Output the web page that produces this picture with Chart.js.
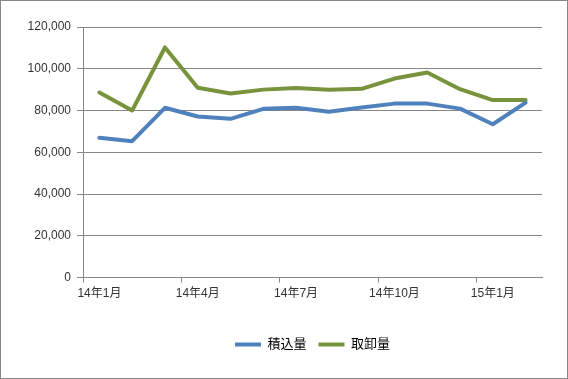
<!DOCTYPE html>
<html>
<head>
<meta charset="utf-8">
<script src="https://cdn.jsdelivr.net/npm/chart.js@4.4.1/dist/chart.umd.min.js"></script>
<style>
  html, body { margin: 0; padding: 0; background: #fff; }
  #wrap { position: relative; width: 568px; height: 379px; border: 1px solid #868686; box-sizing: border-box; background: #fff; }
</style>
</head>
<body>
<div id="wrap"><canvas id="c"></canvas></div>
<script>
const categories = ['14年1月','14年2月','14年3月','14年4月','14年5月','14年6月','14年7月','14年8月','14年9月','14年10月','14年11月','14年12月','15年1月','15年2月'];
const loadingValues = [66900, 65300, 81300, 77100, 76000, 80800, 81300, 79400, 81400, 83300, 83300, 80900, 73400, 83800];
const unloadingValues = [88600, 80000, 110200, 90900, 88100, 90000, 90800, 89900, 90400, 95300, 98200, 90200, 85000, 85000];
const seriesNames = ['積込量', '取卸量'];
const yTicks = [0, 20000, 40000, 60000, 80000, 100000, 120000];

const FONT = '"Liberation Sans", "Noto Sans CJK JP", sans-serif';
const GRID = '#868686';
const TEXT = '#333333';

new Chart(document.getElementById('c'), {
  type: 'line',
  data: {
    labels: categories,
    datasets: [
      { label: seriesNames[0], data: loadingValues, borderColor: '#4F81BD', backgroundColor: '#4F81BD',
        borderWidth: 4, pointRadius: 0, pointHoverRadius: 0, tension: 0, borderJoinStyle: 'round', borderCapStyle: 'round', pointStyle: 'line' },
      { label: seriesNames[1], data: unloadingValues, borderColor: '#77933C', backgroundColor: '#77933C',
        borderWidth: 4, pointRadius: 0, pointHoverRadius: 0, tension: 0, borderJoinStyle: 'round', borderCapStyle: 'round', pointStyle: 'line' }
    ]
  },
  options: {
    responsive: true,
    maintainAspectRatio: false,
    animation: false,
    layout: { padding: { top: 26, right: 25, bottom: 17, left: 0 } },
    plugins: {
      tooltip: { enabled: false },
      legend: {
        position: 'bottom',
        fullSize: false,
        labels: {
          usePointStyle: true,
          pointStyleWidth: 26,
          boxHeight: 13,
          padding: 12,
          color: '#000',
          font: { family: FONT, size: 13 }
        }
      }
    },
    scales: {
      x: {
        type: 'category',
        offset: true,
        afterFit: s => { s.height = 48.5; },
        grid: {
          offset: true,
          drawOnChartArea: false,
          drawTicks: true,
          tickLength: 5,
          color: ctx => (ctx.index !== undefined && ctx.index % 3 === 0) ? GRID : 'rgba(0,0,0,0)'
        },
        border: { color: GRID, width: 1 },
        ticks: {
          autoSkip: false,
          maxRotation: 0,
          padding: 4,
          color: TEXT,
          font: { family: FONT, size: 12 },
          callback: (v, i) => (i % 3 === 0 ? categories[i] : '')
        }
      },
      y: {
        min: yTicks[0],
        max: yTicks[yTicks.length - 1],
        afterFit: s => { s.width = 82; },
        afterBuildTicks: s => { s.ticks = yTicks.map(v => ({ value: v })); },
        grid: { color: GRID, tickLength: 6, drawTicks: true },
        border: { color: GRID, width: 1 },
        ticks: {
          padding: 6,
          color: TEXT,
          font: { family: FONT, size: 12 },
          callback: v => Number(v).toLocaleString('en-US')
        }
      }
    }
  }
});
</script>
</body>
</html>
